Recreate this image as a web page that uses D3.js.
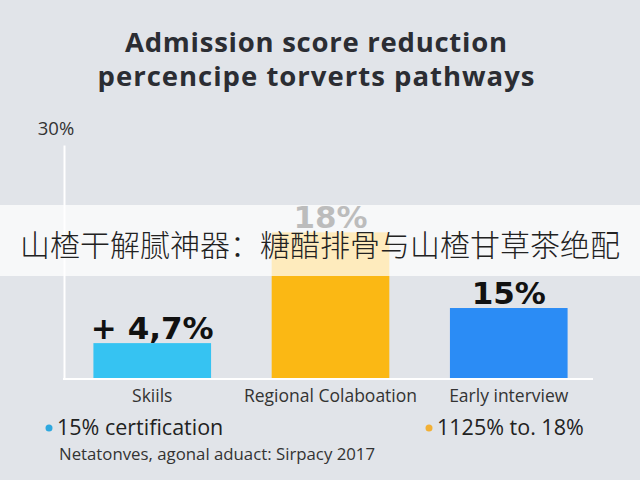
<!DOCTYPE html>
<html>
<head>
<meta charset="utf-8">
<script src="https://cdn.jsdelivr.net/npm/d3@7"></script>
<style>
  html, body { margin: 0; padding: 0; background: #e1e4e9; }
  svg { display: block; }
</style>
</head>
<body>
<script>
// ---- data ----
const titleLines = ["Admission score reduction", "percencipe torverts pathways"];
const categories = ["Skiils", "Regional Colaboation", "Early interview"];
const values = [4.6, 18.8, 9.1];
const valueLabels = ["+ 4,7%", "18%", "15%"];
const barColors = ["#36c3f2", "#fbb814", "#2b8cf5"];
const yTicks = [30];
const legendLabels = ["15% certification", "1125% to. 18%"];
const legendColors = ["#2ea8df", "#f2b035"];
const footnote = "Netatonves, agonal aduact: Sirpacy 2017";
const bannerText = "山楂干解腻神器：糖醋排骨与山楂甘草茶绝配";

const W = 640, H = 480;
const svg = d3.select("body").append("svg").attr("width", W).attr("height", H);

svg.append("rect").attr("width", W).attr("height", H).attr("fill", "#e1e4e9");

// title
const titleWidths = [382, 437];
svg.append("g").selectAll("text").data(titleLines).join("text")
  .attr("x", 316).attr("y", (d, i) => 52 + i * 34)
  .attr("text-anchor", "middle")
  .attr("font-family", "'Open Sans', sans-serif")
  .attr("font-weight", 700).attr("font-size", 27.5)
  .attr("fill", "#2b2d33")
  .attr("textLength", (d, i) => titleWidths[i])
  .attr("lengthAdjust", "spacing")
  .text(d => d);

// scales
const y = d3.scaleLinear().domain([0, 30]).range([379, 145]);
const x = d3.scaleBand().domain(categories).range([64, 597])
  .paddingInner(0.34).paddingOuter(0.165);

// y axis
const yAxis = svg.append("g").attr("transform", "translate(64,0)")
  .call(d3.axisLeft(y).tickValues([]).tickSizeOuter(0));
yAxis.select(".domain").attr("stroke", "#ffffff").attr("stroke-width", 2);
svg.append("g").selectAll("text").data(yTicks).join("text")
  .attr("x", 56).attr("y", d => y(d) - 10)
  .attr("text-anchor", "middle")
  .attr("font-family", "'Open Sans', sans-serif")
  .attr("font-size", 18.5).attr("fill", "#333")
  .text(d => d + "%");

// bars
svg.append("g").selectAll("rect").data(values).join("rect")
  .attr("x", (d, i) => x(categories[i]))
  .attr("width", x.bandwidth())
  .attr("y", d => y(d))
  .attr("height", d => y(0) - y(d))
  .attr("fill", (d, i) => barColors[i]);

// x axis
const xAxis = svg.append("g").attr("transform", "translate(0,379)")
  .call(d3.axisBottom(x).tickSize(0).tickSizeOuter(0));
xAxis.select(".domain").remove();
svg.append("line").attr("x1", 63).attr("x2", 593).attr("y1", 379).attr("y2", 379)
  .attr("stroke", "#ffffff").attr("stroke-width", 2);
xAxis.selectAll(".tick text")
  .attr("y", 23).attr("dy", null)
  .attr("font-family", "'Open Sans', sans-serif")
  .attr("font-size", 17.5).attr("fill", "#333");

// value labels
svg.append("g").selectAll("text").data(values).join("text")
  .attr("x", (d, i) => x(categories[i]) + x.bandwidth() / 2)
  .attr("y", d => y(d) - 4)
  .attr("text-anchor", "middle")
  .attr("font-family", "'DejaVu Sans', sans-serif")
  .attr("font-weight", 700).attr("font-size", 31)
  .attr("fill", "#111")
  .text((d, i) => valueLabels[i]);

// legend
const legX = [49, 429];
const leg = svg.append("g").selectAll("g").data(legendLabels).join("g")
  .attr("transform", (d, i) => `translate(${legX[i]},428)`);
leg.append("circle").attr("r", 3.5).attr("fill", (d, i) => legendColors[i]);
leg.append("text").attr("x", 8).attr("y", 7)
  .attr("font-family", "'Open Sans', sans-serif")
  .attr("font-size", 21.5).attr("fill", "#222")
  .text(d => d);

// footnote
svg.append("text").attr("x", 59).attr("y", 460)
  .attr("font-family", "'Open Sans', sans-serif")
  .attr("font-size", 16.8).attr("fill", "#333")
  .text(footnote);

// banner overlay
svg.append("rect").attr("x", 0).attr("y", 205).attr("width", W).attr("height", 71)
  .attr("fill", "#ffffff").attr("fill-opacity", 0.72);
svg.append("text").attr("x", 320).attr("y", 243)
  .attr("text-anchor", "middle").attr("dominant-baseline", "central")
  .attr("font-family", "'Noto Sans CJK SC', sans-serif")
  .attr("font-weight", 300).attr("font-size", 30).attr("fill", "#222")
  .text(bannerText);
</script>
</body>
</html>
